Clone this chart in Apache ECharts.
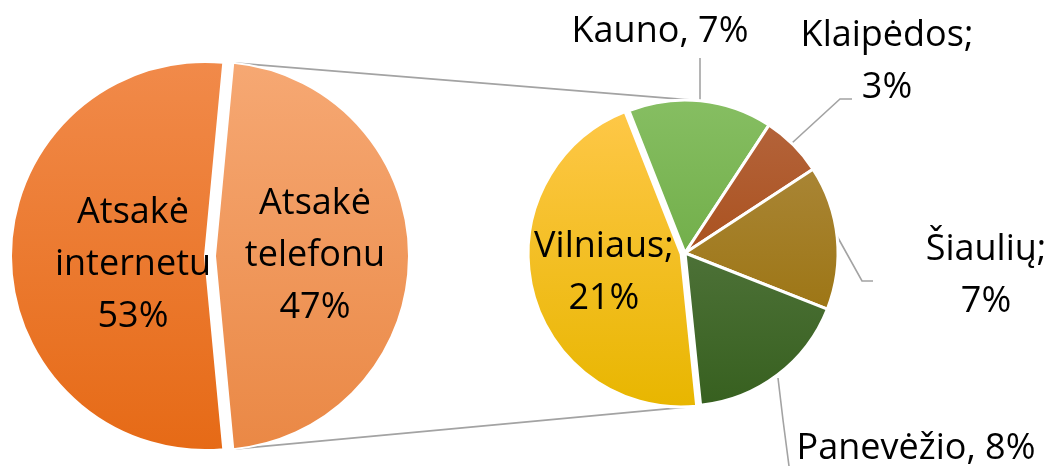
<!DOCTYPE html>
<html>
<head>
<meta charset="utf-8">
<script src="https://cdn.jsdelivr.net/npm/echarts@6/dist/echarts.min.js"></script>
<style>
html,body{margin:0;padding:0;background:#fff;}
#chart{width:1051px;height:466px;}
</style>
</head>
<body>
<div id="chart"></div>
<script>
// ---- data ----
const mainNames = ['Atsakė telefonu', 'Atsakė internetu'];
const mainValues = [47, 53];
const cityNames = ['Kauno', 'Klaipėdos', 'Šiaulių', 'Panevėžio', 'Vilniaus'];
const cityValues = [7, 3, 7, 8, 21];
const citySeparators = [',', ';', ';', ',', ';'];
const cityWrapped = [false, true, true, false, true];

// ---- layout / style ----
const P1 = { cx: 205, cy: 256, r: 194, offset: 10 };
const P2 = { cx: 685, cy: 253, r: 153, offset: 4, start: 111.5 };
const mainColors = [['#F6A873', '#EA8845'], ['#F18A4A', '#E66A16']];
const cityColors = [['#86BE62', '#5FA033'], ['#B5663F', '#A03E00'], ['#AE8C44', '#966C00'],
                    ['#62824F', '#37601F'], ['#FFC84A', '#E8B600']];
const mainLabelPos = [[293, 265], [133, 265]];
const cityLabelPos = [[660, 32], [887, 62], [986, 276], [916, 449], [613, 266]];
const cityLeaders = [
  [[700, 101], [700, 80], [700, 58]],
  [[792, 143], [840, 99], [852, 99]],
  [[837, 236], [862, 281], [873, 281]],
  [[778, 378], [783, 420], [789, 466]],
  null
];
const FONT = { fontFamily: 'Open Sans', fontSize: 36, color: '#000', lineHeight: 52 };
const LINE_COLOR = '#A3A3A3';
const LINE_W = 1.6;

function grad(pie, c) {
  return { type: 'linear', global: true, x: 0, y: pie.cy - pie.r, x2: 0, y2: pie.cy + pie.r,
    colorStops: [{ offset: 0, color: c[0] }, { offset: 1, color: c[1] }] };
}

const mainData = mainNames.map((n, i) => ({
  name: n, value: mainValues[i], selected: i === 0,
  itemStyle: { color: grad(P1, mainColors[i]) }
}));
const cityTotal = cityValues.reduce((a, b) => a + b, 0);
const cityData = cityNames.map((n, i) => ({
  name: n, value: cityValues[i], selected: n === 'Vilniaus',
  itemStyle: { color: grad(P2, cityColors[i]) },
  label: { position: cityLeaders[i] === null ? 'inside' : 'outside' },
  labelLine: { show: cityLeaders[i] !== null }
}));

// connector lines (from the exploded slice edges to the secondary pie)
const mainTotal = mainValues.reduce((a, b) => a + b, 0);
const half = mainValues[0] / mainTotal * 180 * Math.PI / 180;
const ex = P1.cx + P1.offset;
const leftTop = [ex + P1.r * Math.cos(half), P1.cy - P1.r * Math.sin(half)];
const leftBot = [ex + P1.r * Math.cos(half), P1.cy + P1.r * Math.sin(half)];
const vilIdx = cityNames.indexOf('Vilniaus');
const otherSum = cityTotal - cityValues[vilIdx];
const bAng = (P2.start - otherSum / cityTotal * 360) * Math.PI / 180;
const vMid = bAng - (cityValues[vilIdx] / cityTotal * 360) / 2 * Math.PI / 180;
const rightBot = [P2.cx + P2.r * Math.cos(bAng) + P2.offset * Math.cos(vMid),
                  P2.cy - P2.r * Math.sin(bAng) - P2.offset * Math.sin(vMid)];
const tAng = 86 * Math.PI / 180;
const rightTop = [P2.cx + P2.r * Math.cos(tAng), P2.cy - P2.r * Math.sin(tAng)];

const chart = echarts.init(document.getElementById('chart'));
chart.setOption({
  animation: false,
  backgroundColor: '#fff',
  graphic: [
    { type: 'line', z: 0, silent: true, shape: { x1: leftTop[0], y1: leftTop[1], x2: rightTop[0], y2: rightTop[1] },
      style: { stroke: LINE_COLOR, lineWidth: LINE_W } },
    { type: 'line', z: 0, silent: true, shape: { x1: leftBot[0], y1: leftBot[1], x2: rightBot[0], y2: rightBot[1] },
      style: { stroke: LINE_COLOR, lineWidth: LINE_W } }
  ],
  series: [
    {
      type: 'pie', center: [P1.cx, P1.cy], radius: P1.r,
      startAngle: mainValues[0] / mainTotal * 180, clockwise: true,
      selectedMode: 'single', selectedOffset: P1.offset, silent: true,
      avoidLabelOverlap: false, emphasis: { disabled: true },
      itemStyle: { borderColor: '#fff', borderWidth: 2 },
      label: Object.assign({ show: true, position: 'inside',
        formatter: p => p.name.replace(' ', '\n') + '\n' + p.value + '%' }, FONT),
      labelLine: { show: false },
      labelLayout: p => ({ x: mainLabelPos[p.dataIndex][0], y: mainLabelPos[p.dataIndex][1],
        align: 'center', verticalAlign: 'middle' }),
      data: mainData
    },
    {
      type: 'pie', center: [P2.cx, P2.cy], radius: P2.r,
      startAngle: P2.start, clockwise: true,
      selectedMode: 'single', selectedOffset: P2.offset, silent: true,
      avoidLabelOverlap: false, emphasis: { disabled: true },
      itemStyle: { borderColor: '#fff', borderWidth: 3 },
      label: Object.assign({ show: true, position: 'outside',
        formatter: p => p.name + citySeparators[p.dataIndex] + (cityWrapped[p.dataIndex] ? '\n' : ' ') + p.value + '%' }, FONT),
      labelLine: { show: true, lineStyle: { color: LINE_COLOR, width: LINE_W } },
      labelLayout: p => {
        const o = { x: cityLabelPos[p.dataIndex][0], y: cityLabelPos[p.dataIndex][1],
          align: 'center', verticalAlign: 'middle' };
        if (cityLeaders[p.dataIndex]) o.labelLinePoints = cityLeaders[p.dataIndex];
        return o;
      },
      data: cityData
    }
  ]
});
</script>
</body>
</html>
